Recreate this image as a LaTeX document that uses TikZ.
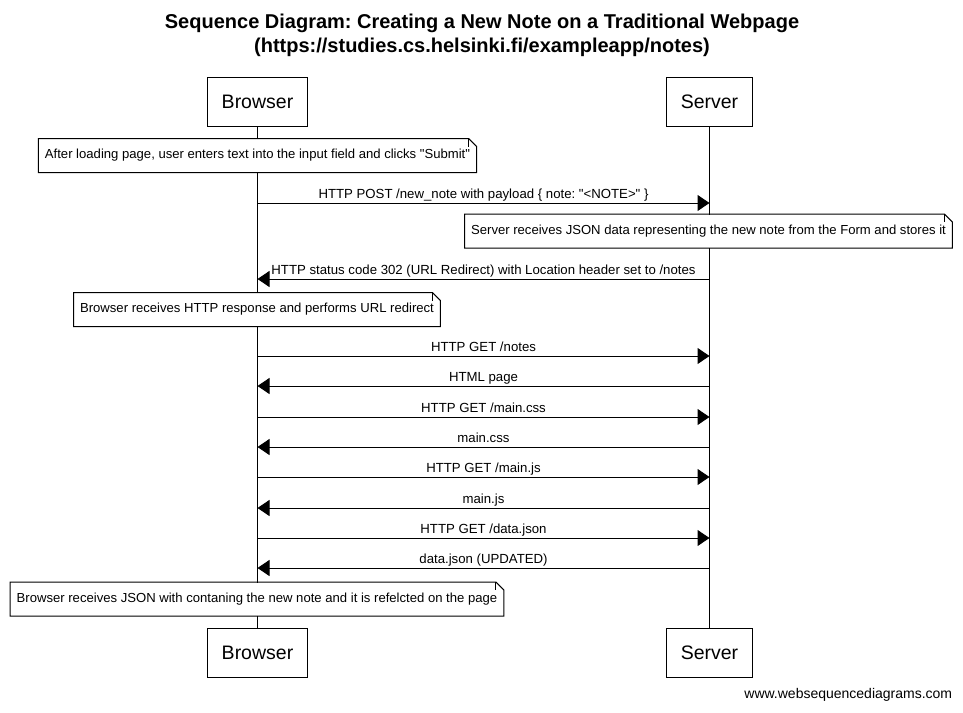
\documentclass[tikz,border=0pt]{standalone}
\usepackage{fontspec}
\setmainfont{Liberation Sans}
\usetikzlibrary{arrows.meta,positioning}
\frenchspacing

\begin{document}
\begin{tikzpicture}[
  x=1pt,y=-1pt,
  line width=1pt,
  actor/.style={draw,fill=white,inner xsep=14.5pt,minimum height=49pt,font=\fontsize{19.5}{22}\selectfont},
  note/.style={fill=white,inner xsep=6pt,minimum height=33pt,font=\fontsize{13.1}{15}\selectfont},
  msg/.style={font=\fontsize{13.2}{15}\selectfont,inner sep=1pt,text height=9.5pt,text depth=2.7pt,above=0pt},
  arr/.style={-{Triangle[length=12pt,width=16pt]}},
  life/.style={line width=1pt}
]
\useasboundingbox[fill=white] (0,0) rectangle (963,712);
% title
\node[font=\bfseries\fontsize{20}{24}\selectfont,align=center] (title) at (482,35.5)
  {Sequence Diagram: Creating a New Note on a Traditional Webpage\\(https://studies.cs.helsinki.fi/exampleapp/notes)};
% participants
\node[actor] (btop) at (257.5,101.5) {Browser};
\node[actor] (stop) at (709.5,101.5) {Server};
\node[actor] (bbot) at (257.5,652.5) {Browser};
\node[actor] (sbot) at (709.5,652.5) {Server};
\draw[life] (btop) -- (bbot);
\draw[life] (stop) -- (sbot);
% notes
\node[note] (n1) at (257.5,155.5) {After loading page, user enters text into the input field and clicks \textquotedbl Submit\textquotedbl};
\node[note] (n2) at (708.5,231) {Server receives JSON data representing the new note from the Form and stores it};
\node[note] (n3) at (257,309.5) {Browser receives HTTP response and performs URL redirect};
\node[note] (n4) at (257,599) {Browser receives JSON with contaning the new note and it is refelcted on the page};
\foreach \n in {n1,n2,n3,n4}{
  \draw (\n.south west) -- (\n.north west) -- ([xshift=-8pt]\n.north east)
    -- ([yshift=-8pt]\n.north east) -- (\n.south east) -- cycle;
  \draw ([xshift=-8pt]\n.north east) -- ([xshift=-8pt,yshift=-8pt]\n.north east);
}
% message ends on the lifelines
\foreach \k/\y in {1/203,2/279,3/356,4/386,5/417,6/447,7/477,8/508,9/538,10/568}{
  \coordinate (b\k) at (btop.south |- 0,\y);
  \coordinate (s\k) at (stop.south |- 0,\y);
}
\draw[arr] (b1) -- node[msg] {HTTP POST /new\_note with payload \{ note: \textquotedbl<NOTE>\textquotedbl\ \}} (s1);
\draw[arr] (s2) -- node[msg] {HTTP status code 302 (URL Redirect) with Location header set to /notes} (b2);
\draw[arr] (b3) -- node[msg] {HTTP GET /notes} (s3);
\draw[arr] (s4) -- node[msg] {HTML page} (b4);
\draw[arr] (b5) -- node[msg] {HTTP GET /main.css} (s5);
\draw[arr] (s6) -- node[msg] {main.css} (b6);
\draw[arr] (b7) -- node[msg] {HTTP GET /main.js} (s7);
\draw[arr] (s8) -- node[msg] {main.js} (b8);
\draw[arr] (b9) -- node[msg] {HTTP GET /data.json} (s9);
\draw[arr] (s10) -- node[msg] {data.json (UPDATED)} (b10);
% footer
\node[anchor=east,font=\fontsize{14}{16}\selectfont] (wsd) at (956,695) {www.websequencediagrams.com};
\end{tikzpicture}
\end{document}
